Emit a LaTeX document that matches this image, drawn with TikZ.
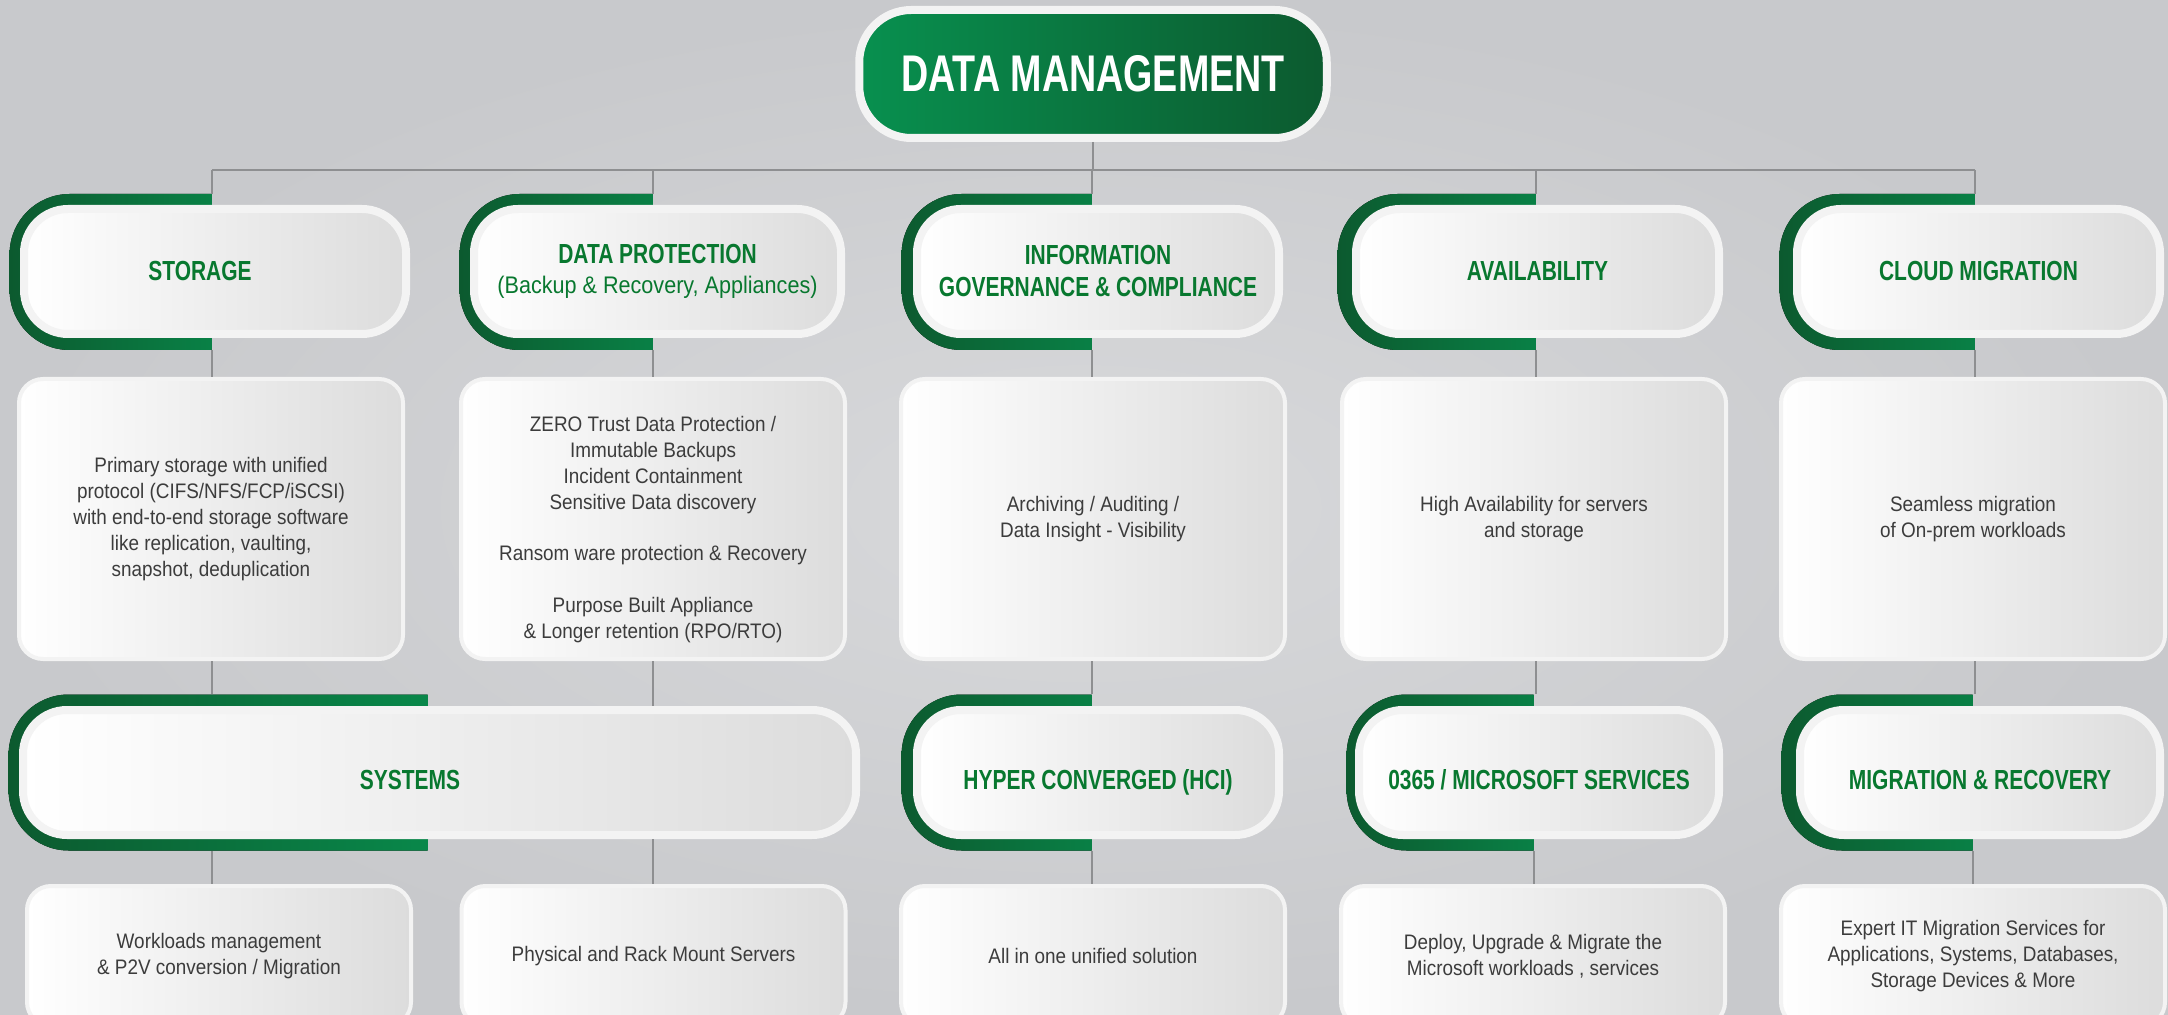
\documentclass[tikz,border=0pt]{standalone}
\usepackage{fontspec}
\setmainfont{Liberation Sans}[FakeStretch=0.9]
\newfontfamily\hdfont{Liberation Sans}[FakeStretch=0.76]
\newfontfamily\ttlfont{Liberation Sans}[FakeStretch=0.73]
\newcommand\subfont{\rmfamily\mdseries\fontsize{12}{14}\selectfont}
\usetikzlibrary{shapes.misc}

\definecolor{bgin}{HTML}{D8D9DB}
\definecolor{bgout}{HTML}{C8C9CC}
\definecolor{dmgreen}{HTML}{08904F}
\definecolor{dmdark}{HTML}{0C5A2F}
\definecolor{hdgreen}{HTML}{08782F}
\definecolor{rim}{HTML}{F3F3F3}
\definecolor{boxgray}{HTML}{DCDCDC}
\definecolor{bodygray}{HTML}{3C3C3C}
\definecolor{linegray}{HTML}{8E8F91}

\tikzset{
  titlepill/.style={rectangle, rounded corners=26pt, draw=rim, line width=4pt, left color=dmgreen, right color=dmdark,
    minimum width=233.75pt, minimum height=64pt, text=white, font=\ttlfont\bfseries\fontsize{25.8}{30}\selectfont},
  bracket/.style={rectangle, anchor=east, inner sep=0pt, minimum height=78pt,
    path picture={\fill[left color=dmdark, right color=dmgreen, rounded corners=30pt]
      (path picture bounding box.south west) rectangle ([xshift=40pt]path picture bounding box.north east);}},
  pill/.style={rectangle, rounded corners=22pt, draw=rim, line width=4pt, left color=white, right color=boxgray,
    minimum height=62.5pt, text=hdgreen, align=center, font=\hdfont\bfseries\fontsize{13.8}{16}\selectfont},
  lowpill/.style={pill, text height=17pt, text depth=0pt},
  descbox/.style={rectangle, rounded corners=12pt, draw=rim, line width=2pt, left color=white, right color=boxgray,
    minimum width=192pt, text=bodygray, align=center, font=\fontsize{10.5}{12.9}\selectfont},
  link/.style={draw=linegray, line width=0.6pt}
}

\begin{document}
\begin{tikzpicture}[x=0.5pt, y=-0.5pt]
    \useasboundingbox (0,0) rectangle (2168,1015);
    \fill[inner color=bgin, outer color=bgout] (0,0) rectangle (2168,1015);

    % top
    \node[titlepill] (dm) at (1093,74) {DATA MANAGEMENT};
    \coordinate (bus) at (1093,170);

    % first row of headers
    \node[bracket, minimum width=101pt] (storG) at (212,272) {};
    \node[pill, minimum width=191pt] (stor) at (215,271.5) {STORAGE\hspace*{15pt}\mbox{}};
    \node[bracket, minimum width=96.5pt] (protG) at (653,272) {};
    \node[pill, minimum width=183.5pt] (prot) at (657.5,271.5) {DATA PROTECTION\\[-1pt]{\subfont (Backup \& Recovery, Appliances)}};
    \node[bracket, minimum width=95pt] (infoG) at (1092,272) {};
    \node[pill, minimum width=181pt] (info) at (1098,271.5) {INFORMATION\\GOVERNANCE \& COMPLIANCE};
    \node[bracket, minimum width=99pt] (availG) at (1536,272) {};
    \node[pill, minimum width=181.5pt] (avail) at (1537.5,271.5) {AVAILABILITY};
    \node[bracket, minimum width=97.5pt] (cloudG) at (1975,272) {};
    \node[pill, minimum width=181.5pt] (cloud) at (1978.5,271.5) {CLOUD MIGRATION};

    % descriptions
    \node[descbox, minimum height=140pt] (storD) at (211,519) {Primary storage with unified\\protocol (CIFS/NFS/FCP/iSCSI)\\with end-to-end storage software\\like replication, vaulting,\\snapshot, deduplication};
    \node[descbox, minimum height=140pt] (protD) at (653,519) {\rule{0pt}{18pt}ZERO Trust Data Protection /\\Immutable Backups\\Incident Containment\\Sensitive Data discovery\\[12.9pt]Ransom ware protection \& Recovery\\[12.9pt]Purpose Built Appliance\\\& Longer retention (RPO/RTO)};
    \node[descbox, minimum height=140pt] (infoD) at (1093,519) {Archiving / Auditing /\\Data Insight - Visibility};
    \node[descbox, minimum height=140pt] (availD) at (1534,519) {High Availability for servers\\and storage};
    \node[descbox, minimum height=140pt] (cloudD) at (1973,519) {Seamless migration\\of On-prem workloads};

    % second row of headers
    \node[bracket, minimum width=209.5pt] (sysG) at (428,772.5) {};
    \node[lowpill, minimum width=416.5pt] (sys) at (439.5,772.5) {SYSTEMS\hspace*{29.5pt}\mbox{}};
    \node[bracket, minimum width=95pt] (hciG) at (1092,772.5) {};
    \node[lowpill, minimum width=181pt] (hci) at (1098,772.5) {HYPER CONVERGED (HCI)};
    \node[bracket, minimum width=93.5pt] (msG) at (1534,772.5) {};
    \node[lowpill, minimum width=180pt] (ms) at (1539,772.5) {0365 / MICROSOFT SERVICES};
    \node[bracket, minimum width=95.5pt] (migG) at (1973,772.5) {};
    \node[lowpill, minimum width=180pt] (mig) at (1980,772.5) {MIGRATION \& RECOVERY};

    % bottom descriptions
    \node[descbox, minimum height=70pt] (sysA) at (219,956) {Workloads management\\\& P2V conversion / Migration};
    \node[descbox, minimum height=70pt] (sysB) at (653.5,956) {Physical and Rack Mount Servers};
    \node[descbox, minimum height=70pt] (hciD) at (1093,956) {All in one unified solution};
    \node[descbox, minimum height=70pt] (msD) at (1533,956) {Deploy, Upgrade \& Migrate the\\Microsoft workloads , services};
    \node[descbox, minimum height=70pt] (migD) at (1973,956) {Expert IT Migration Services for\\Applications, Systems, Databases,\\Storage Devices \& More};

    % connectors
    \draw[link] (dm.south) -- (bus);
    \draw[link] (storG.east |- bus) -- (cloudG.east |- bus);
    \draw[link] (storG.east |- bus) -- (storG.north east);
    \draw[link] (protG.east |- bus) -- (protG.north east);
    \draw[link] (infoG.east |- bus) -- (infoG.north east);
    \draw[link] (availG.east |- bus) -- (availG.north east);
    \draw[link] (cloudG.east |- bus) -- (cloudG.north east);

    \draw[link] (storG.south east) -- (storG.east |- storD.north);
    \draw[link] (protG.south east) -- (protG.east |- protD.north);
    \draw[link] (infoG.south east) -- (infoG.east |- infoD.north);
    \draw[link] (availG.south east) -- (availG.east |- availD.north);
    \draw[link] (cloudG.south east) -- (cloudG.east |- cloudD.north);

    \draw[link] (storG.east |- storD.south) -- (storG.east |- sysG.north);
    \draw[link] (protG.east |- protD.south) -- (protG.east |- sys.north);
    \draw[link] (infoG.east |- infoD.south) -- (hciG.north east);
    \draw[link] (availG.east |- availD.south) -- (availG.east |- msG.north);
    \draw[link] (cloudG.east |- cloudD.south) -- (cloudG.east |- migG.north);

    \draw[link] (storG.east |- sysG.south) -- (storG.east |- sysA.north);
    \draw[link] (protG.east |- sys.south) -- (protG.east |- sysB.north);
    \draw[link] (hciG.south east) -- (hciG.east |- hciD.north);
    \draw[link] (msG.south east) -- (msG.east |- msD.north);
    \draw[link] (migG.south east) -- (migG.east |- migD.north);
\end{tikzpicture}
\end{document}
